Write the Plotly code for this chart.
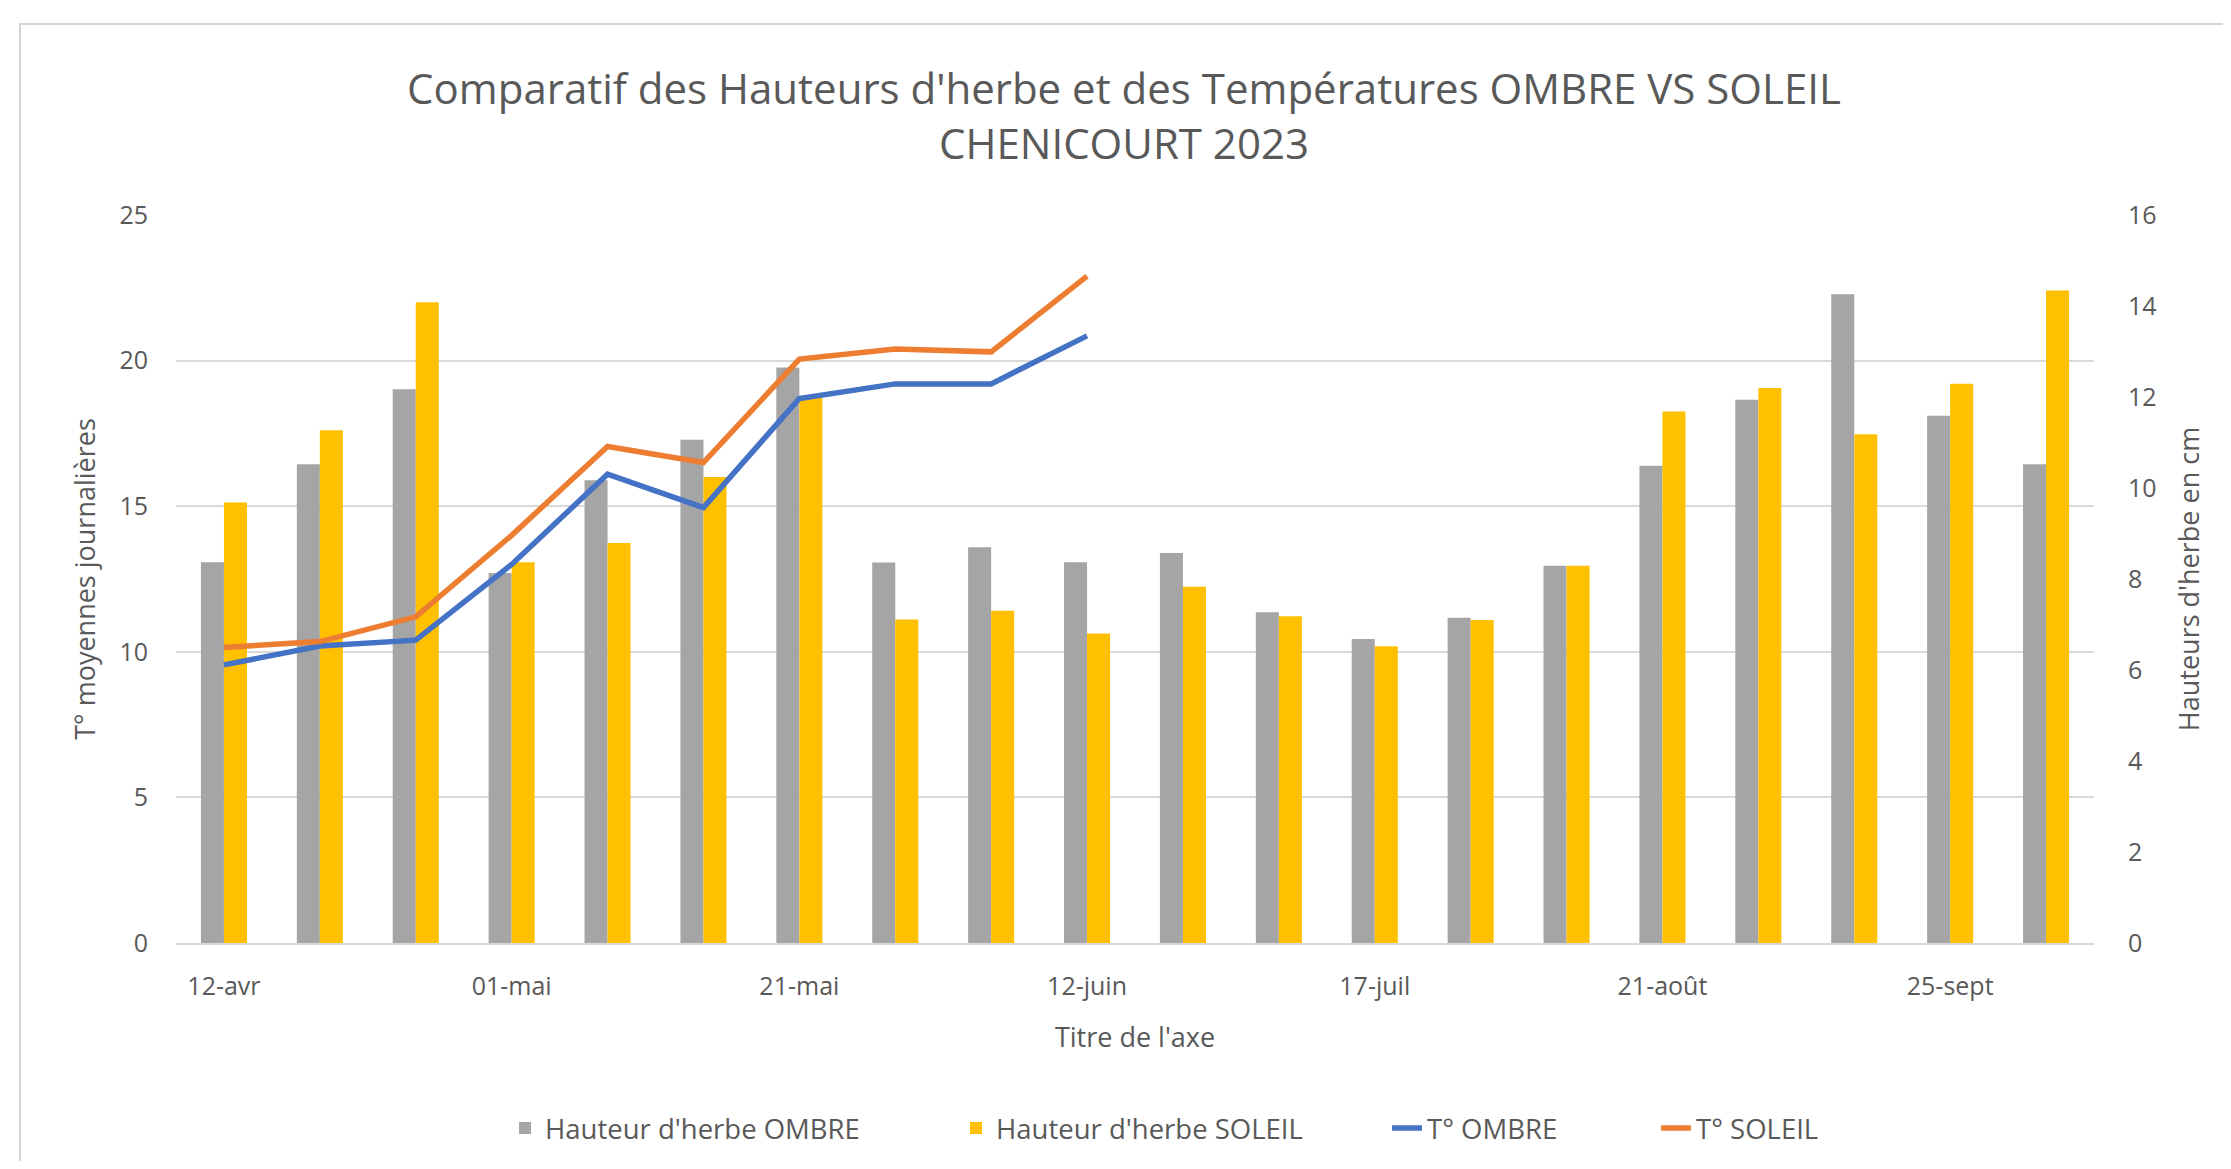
import plotly.graph_objects as go

# ---- data ----
categories = ["12-avr", "18-avr", "25-avr", "01-mai", "08-mai", "15-mai", "21-mai",
              "29-mai", "05-juin", "12-juin", "26-juin", "05-juil", "17-juil", "31-juil",
              "09-août", "21-août", "04-sept", "14-sept", "25-sept", "06-oct"]
tick_labels = ["12-avr", "01-mai", "21-mai", "12-juin", "17-juil", "21-août", "25-sept"]
hauteur_ombre = [8.37, 10.52, 12.17, 8.13, 10.17, 11.06, 12.65, 8.36, 8.70, 8.37,
                 8.57, 7.27, 6.68, 7.15, 8.29, 10.49, 11.94, 14.26, 11.59, 10.52]
hauteur_soleil = [9.68, 11.27, 14.08, 8.37, 8.79, 10.24, 12.02, 7.11, 7.30, 6.80,
                  7.83, 7.18, 6.52, 7.10, 8.29, 11.68, 12.20, 11.18, 12.29, 14.34]
t_ombre = [9.55, 10.2, 10.4, 13.0, 16.1, 14.95, 18.7, 19.2, 19.2, 20.85,
           None, None, None, None, None, None, None, None, None, None]
t_soleil = [10.15, 10.35, 11.2, 14.0, 17.05, 16.5, 20.05, 20.4, 20.3, 22.9,
            None, None, None, None, None, None, None, None, None, None]

FONT = "Open Sans"
TXT = "#595959"

# figure size (page has an 8px body margin)
W, H = 2215, 1153
L, R, T, B = 168, 129, 207, 218
pw = W - L - R
ph = H - T - B
bottom_px = T + ph


def px_x(px):
    return (px - L) / pw


def px_y(py):
    return (bottom_px - py) / ph


fig = go.Figure()
fig.add_trace(go.Bar(x=categories, y=hauteur_ombre, name="Hauteur d'herbe OMBRE",
                     marker=dict(color="#A5A5A5", line=dict(width=0)), yaxis="y",
                     legend="legend"))
fig.add_trace(go.Bar(x=categories, y=hauteur_soleil, name="Hauteur d'herbe SOLEIL",
                     marker=dict(color="#FFC000", line=dict(width=0)), yaxis="y",
                     legend="legend2"))
fig.add_trace(go.Scatter(x=categories, y=t_ombre, name="T° OMBRE", mode="lines",
                         line=dict(color="#4472C4", width=5.5), yaxis="y2",
                         connectgaps=False, legend="legend3"))
fig.add_trace(go.Scatter(x=categories, y=t_soleil, name="T° SOLEIL", mode="lines",
                         line=dict(color="#ED7D31", width=5.5), yaxis="y2",
                         connectgaps=False, legend="legend4"))

leg_y = px_y(1120)
leg_common = dict(orientation="h", xanchor="left", xref="paper", y=leg_y, yanchor="middle",
                  font=dict(size=27.5, color=TXT), bgcolor="rgba(0,0,0,0)")
# text start positions (figure px) of each legend entry
text_starts = [547, 998, 1429, 1698]

fig.update_layout(
    width=W, height=H,
    margin=dict(l=L, r=R, t=T, b=B, autoexpand=False),
    paper_bgcolor="white", plot_bgcolor="white",
    font=dict(family=FONT, color=TXT, size=25),
    barmode="group", bargap=0.52, bargroupgap=0,
    title=dict(text="Comparatif des Hauteurs d'herbe et des Températures OMBRE VS SOLEIL<br>CHENICOURT 2023",
               x=1116 / W, xanchor="center", xref="container",
               y=1 - 96 / H, yanchor="middle", yref="container",
               font=dict(family=FONT, size=42, color=TXT)),
    xaxis=dict(type="category", tickmode="array", tickvals=tick_labels, ticktext=tick_labels,
               showgrid=False, showline=True, linecolor="#D9D9D9", linewidth=2,
               ticks="outside", ticklen=20, tickcolor="rgba(0,0,0,0)",
               tickfont=dict(size=25, color=TXT), automargin=False,
               title=dict(text="Titre de l'axe", font=dict(size=27, color=TXT), standoff=27)),
    yaxis=dict(side="right", range=[0, 16], dtick=2, showgrid=False, zeroline=False,
               ticks="outside", ticklen=28, tickcolor="rgba(0,0,0,0)",
               tickfont=dict(size=25, color=TXT), automargin=False,
               title=dict(text="Hauteurs d'herbe en cm", font=dict(size=27, color=TXT), standoff=24)),
    yaxis2=dict(side="left", overlaying="y", range=[0, 25], dtick=5,
                showgrid=True, gridcolor="#D9D9D9", gridwidth=2, zeroline=False,
                ticks="outside", ticklen=22, tickcolor="rgba(0,0,0,0)",
                tickfont=dict(size=25, color=TXT), automargin=False,
                title=dict(text="T° moyennes journalières", font=dict(size=27, color=TXT), standoff=15)),
    legend=dict(x=px_x(text_starts[0] - 50), **leg_common),
    legend2=dict(x=px_x(text_starts[1] - 50), **leg_common),
    legend3=dict(x=px_x(text_starts[2] - 50), **leg_common),
    legend4=dict(x=px_x(text_starts[3] - 50), **leg_common),
    showlegend=True,
    shapes=[dict(type="rect", xref="paper", yref="paper",
                 x0=px_x(12), x1=px_x(W + 40),
                 y0=px_y(H + 40), y1=px_y(16),
                 line=dict(color="#D4D4D4", width=2), fillcolor="rgba(0,0,0,0)", layer="below")],
)

fig.write_html("out.html")
